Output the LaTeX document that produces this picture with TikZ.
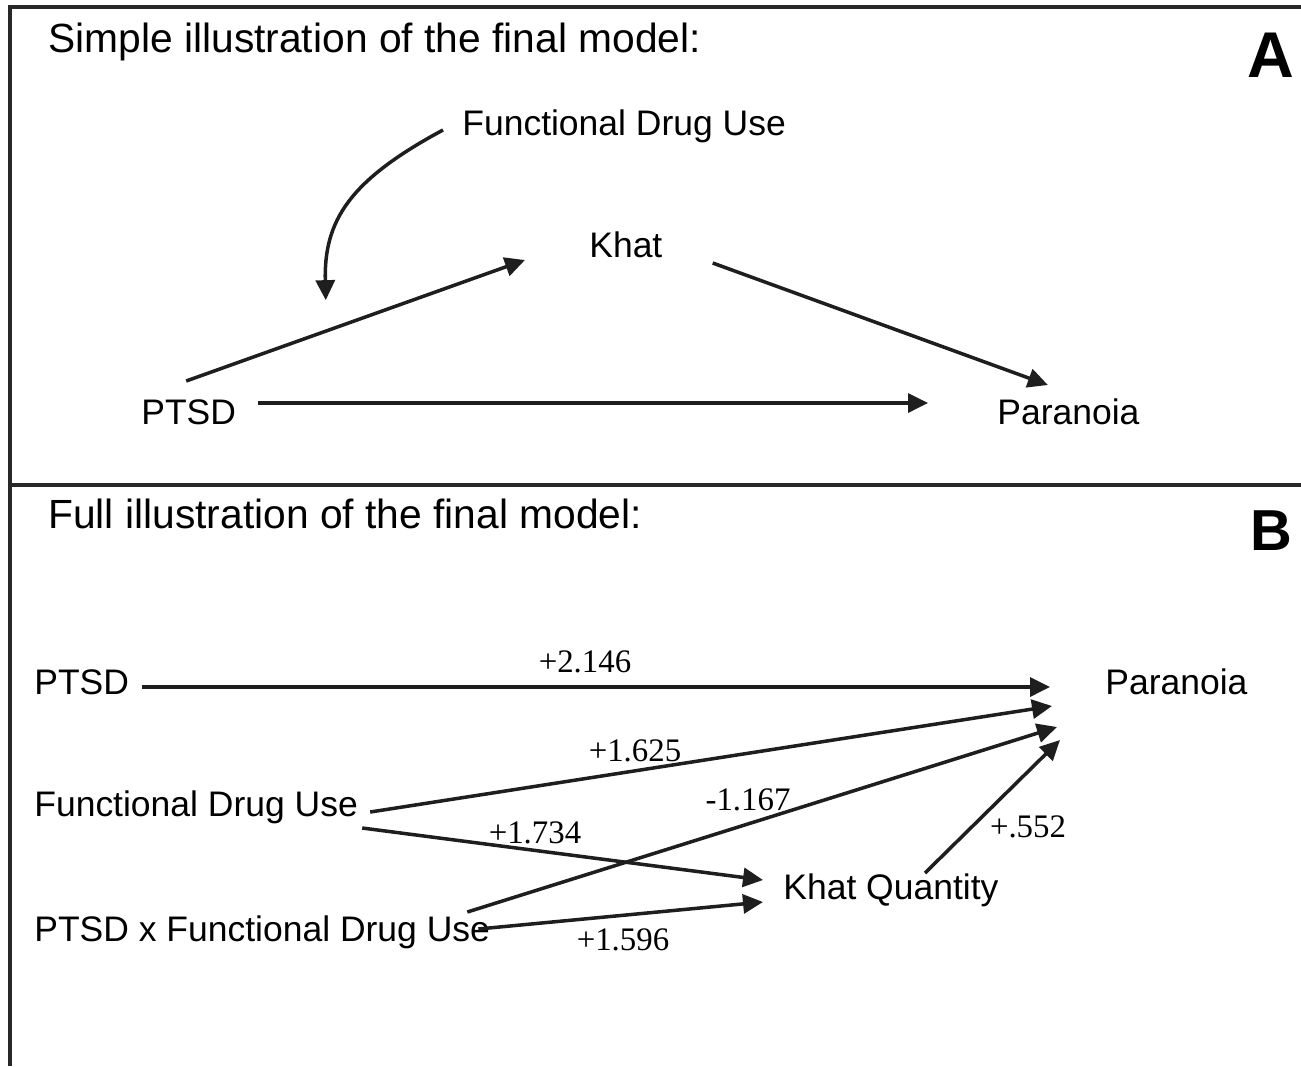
\documentclass[tikz,border=0pt]{standalone}
\usepackage{fontspec}
\setmainfont{Liberation Sans}
\newfontfamily\coeffont{Liberation Serif}
\usetikzlibrary{arrows.meta}
\definecolor{inkdark}{RGB}{30, 30, 30}
\definecolor{framegray}{RGB}{40, 40, 40}

\begin{document}
\begin{tikzpicture}[
  x=0.02cm, y=-0.02cm,
  varlabel/.style={anchor=base west, inner sep=0pt, font=\fontsize{20.2}{24}\selectfont},
  paneltitle/.style={anchor=base west, inner sep=0pt, font=\fontsize{23.2}{28}\selectfont},
  panelletter/.style={anchor=base, inner sep=0pt, font=\bfseries\fontsize{36.8}{40}\selectfont},
  coef/.style={anchor=base, inner sep=0pt, font=\coeffont\fontsize{18.7}{22}\selectfont},
  arr/.style={-{Triangle[length=0.4cm, width=0.38cm]}, line width=2pt, draw=inkdark},
  frame/.style={line width=2.1pt, draw=framegray}
]
  \useasboundingbox (0,0) rectangle (1301,1066);

  \draw[frame] (1301,7) -- (10,7) -- (10,1066);
  \draw[frame] (10,485) -- (1301,485);

  % panel A
  \node[paneltitle] (titleA) at (48,52) {Simple illustration of the final model:};
  \node[panelletter] (letterA) at (1271,77) {A};

  \node[varlabel] (fduA) at (462,135) {Functional Drug Use};
  \node[varlabel] (khatA) at (589,257) {Khat};
  \node[varlabel] (ptsdA) at (141,424) {PTSD};
  \node[varlabel] (parA) at (997,424) {Paranoia};

  \draw[arr] ([shift={(-2.5,-43)}]ptsdA.base) -- coordinate[pos=0.412] (modA) ([shift={(-64,3)}]khatA.base west);
  \draw[arr] ([shift={(-19,-5)}]fduA.base west) .. controls +(-93,50) and +(-2,-80) .. ([shift={(0,-31)}]modA);
  \draw[arr] ([shift={(50,6)}]khatA.base east) -- ([shift={(-20.5,-39)}]parA.base);
  \draw[arr] ([shift={(22,-21)}]ptsdA.base east) -- ([shift={(-69,-21)}]parA.base west);

  % panel B
  \node[paneltitle] (titleB) at (48,528) {Full illustration of the final model:};
  \node[panelletter, font=\bfseries\fontsize{32.9}{36}\selectfont] (letterB) at (1271,550) {B};

  \node[varlabel] (ptsdB) at (34,694) {PTSD};
  \node[varlabel] (parB) at (1105,694) {Paranoia};
  \node[varlabel] (fduB) at (34,816) {Functional Drug Use};
  \node[varlabel] (khatB) at (783,899) {Khat Quantity};
  \node[varlabel] (ptsdxfduB) at (34,941) {PTSD x Functional Drug Use};

  \draw[arr] ([shift={(13,-7)}]ptsdB.base east) -- ([shift={(-55,-7)}]parB.base west);
  \draw[arr] ([shift={(12,-4)}]fduB.base east) -- ([shift={(-53,12)}]parB.base west);
  \draw[arr] ([shift={(4,12)}]fduB.base east) -- ([shift={(-20,-19)}]khatB.base west);
  \draw[arr] ([shift={(-23,-29)}]ptsdxfduB.base east) -- ([shift={(-48,33)}]parB.base west);
  \draw[arr] ([shift={(-12,-12)}]ptsdxfduB.base east) -- ([shift={(-20,3)}]khatB.base west);
  \draw[arr] ([shift={(142,-26)}]khatB.base west) -- ([shift={(-45,46)}]parB.base west);

  \node[coef] (cPtsdPar) at (585,672) {+2.146};
  \node[coef] (cFduPar) at (635,761) {+1.625};
  \node[coef] (cIntPar) at (748,810) {-1.167};
  \node[coef] (cFduKhat) at (535,843) {+1.734};
  \node[coef] (cIntKhat) at (623,950) {+1.596};
  \node[coef] (cKhatPar) at (1028,837) {+.552};

\end{tikzpicture}
\end{document}
